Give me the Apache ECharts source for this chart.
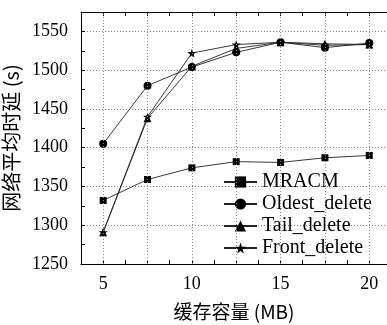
<!DOCTYPE html>
<html><head><meta charset="utf-8">
<script src="https://cdn.jsdelivr.net/npm/echarts@6/dist/echarts.min.js"></script>
<style>html,body{margin:0;padding:0;background:#fff}#c{width:387px;height:325px}</style>
</head><body><div id="c"></div>
<script>
const xValues = [5, 7.5, 10, 12.5, 15, 17.5, 20];
const mracm = [1332, 1359, 1374, 1382, 1381, 1387, 1390];
const oldestDelete = [1405, 1480, 1504, 1523, 1536, 1529, 1535];
const tailDelete = [1291, 1438, 1505, 1528, 1536, 1534, 1533];
const frontDelete = [1291, 1440, 1522, 1533, 1536, 1532, 1533];
const xGridValues = [5, 7.5, 10, 12.5, 15, 17.5, 20];
const xTickLabels = [5, 10, 15, 20];
const seriesNames = ['MRACM', 'Oldest_delete', 'Tail_delete', 'Front_delete'];

const STAR = 'path://M50,0 L61,35 L98,35 L68,57 L79,91 L50,70 L21,91 L32,57 L2,35 L39,35 Z';
const serif = 'Liberation Serif';
const pair = arr => xValues.map((x, i) => [x, arr[i]]);

const chart = echarts.init(document.getElementById('c'), null, {renderer: 'canvas'});
const baseLine = {width: 1, color: '#000'};
function mk(name, data, symbol, size) {
  return {
    name, type: 'line', data: pair(data), symbol, symbolSize: size,
    itemStyle: {color: '#000'}, lineStyle: {width: 0.9, color: '#222'},
    animation: false
  };
}
const s0 = mk(seriesNames[0], mracm, 'rect', 7);
s0.markLine = {
  silent: true, symbol: 'none', label: {show: false}, animation: false,
  lineStyle: {type: [1, 2], color: '#888', width: 1},
  data: xGridValues.map(v => ({xAxis: v}))
};
const xCommon = {
  type: 'value', min: 3.75, max: 21, interval: 1.25,
  axisLine: {show: true, lineStyle: baseLine},
  axisTick: {show: true, inside: true, length: 4, lineStyle: baseLine},
  splitLine: {show: false}
};
chart.setOption({
  backgroundColor: '#fff',
  animation: false,
  grid: {left: 81, top: 12, right: 0, bottom: 61, containLabel: false, outerBoundsMode: 'none'},
  legend: {
    data: seriesNames, orient: 'vertical', left: 218, top: 167,
    itemWidth: 33, itemHeight: 14, itemGap: 2,
    textStyle: {fontFamily: serif, fontSize: 20, color: '#000'}
  },
  xAxis: [
    Object.assign({}, xCommon, {
      position: 'bottom',
      name: '缓存容量 (MB)', nameLocation: 'middle', nameGap: 38,
      nameTextStyle: {fontFamily: 'Noto Sans CJK SC', fontSize: 19, color: '#000'},
      axisLabel: {
        fontFamily: serif, fontSize: 18, color: '#000', margin: 11,
        formatter: v => (xTickLabels.indexOf(v) >= 0 ? String(v) : '')
      }
    }),
    Object.assign({}, xCommon, {position: 'top', axisLabel: {show: false}})
  ],
  yAxis: {
    type: 'value', min: 1250, max: 1575, interval: 50, position: 'left',
    axisLine: {show: true, lineStyle: baseLine},
    axisTick: {show: true, inside: true, length: 4, lineStyle: baseLine},
    minorTick: {show: true, splitNumber: 2, length: 4, lineStyle: baseLine},
    name: '网络平均时延 (s)', nameLocation: 'middle', nameGap: 55, nameRotate: 90,
    nameTextStyle: {fontFamily: 'Noto Sans CJK SC', fontSize: 20, color: '#000'},
    axisLabel: {
      fontFamily: serif, fontSize: 18, color: '#000', margin: 13,
      formatter: v => (v % 50 === 0 && v <= 1550 ? String(v) : '')
    },
    splitLine: {show: true, lineStyle: {type: [1, 2], color: '#888', width: 1}}
  },
  series: [
    s0,
    mk(seriesNames[1], oldestDelete, 'circle', 8),
    mk(seriesNames[2], tailDelete, 'triangle', 8),
    mk(seriesNames[3], frontDelete, STAR, 9)
  ]
});
</script></body></html>
